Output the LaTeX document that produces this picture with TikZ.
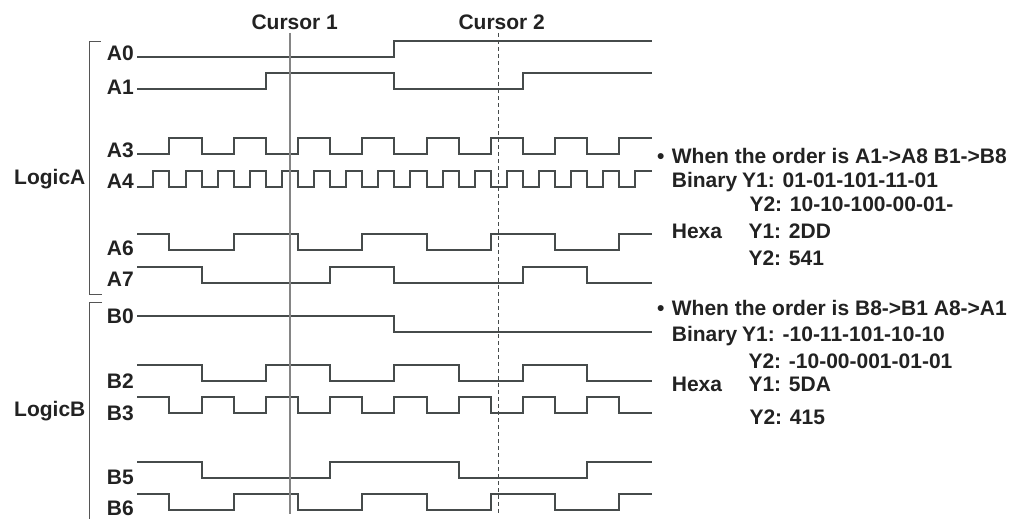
\documentclass[tikz,border=0pt]{standalone}
\usepackage{fontspec}
\setmainfont{Liberation Sans}
\definecolor{txtcol}{HTML}{222222}
\definecolor{wavecol}{HTML}{464B4B}
\definecolor{curcol}{HTML}{858585}
\definecolor{brkcol}{HTML}{555555}
\newcommand\fsz{\fontsize{21}{24}\selectfont}
\newcommand\sigwave[4]{\draw[wave] (0,{#1-16*#2}) \foreach \t [count=\i] in {#3} { -- (\t,{#1-16*mod(\i+#2+1,2)}) -- (\t,{#1-16*mod(\i+#2,2)}) } -- (32,{#1-16*#4});}
\begin{document}
\begin{tikzpicture}[x=1pt,y=-1pt,
  wave/.style={draw=wavecol,line width=2pt,line join=miter},
  lbl/.style={anchor=base east,inner sep=0pt,text=txtcol,font=\fsz\bfseries},
  txt/.style={anchor=base west,inner sep=0pt,text=txtcol,font=\fsz\bfseries},
  ctxt/.style={anchor=base,inner sep=0pt,text=txtcol,font=\fsz\bfseries},
  brk/.style={draw=brkcol,line width=1.3pt},
  cur/.style={draw=curcol,line width=1.5pt},
  curd/.style={draw=wavecol,line width=1.3pt,dash pattern=on 4pt off 3pt}]
\useasboundingbox (0,0) rectangle (1025,519);
% brackets
\draw[brk] (100.7,41.7) -- (89.3,41.7) -- (89.3,294.3) -- (102.3,294.3);
\draw[brk] (102,302.7) -- (89.3,302.7) -- (89.3,522);
\node[txt] (logA) at (14,184.3) {LogicA};
\node[txt] (logB) at (14,416.7) {LogicB};
% channel labels
\node[lbl] (A0) at (134,60) {A0};
\node[lbl] (A1) at (134,94) {A1};
\node[lbl] (A3) at (134,157.3) {A3};
\node[lbl] (A4) at (134,188.3) {A4};
\node[lbl] (A6) at (134,255) {A6};
\node[lbl] (A7) at (134,286.7) {A7};
\node[lbl] (B0) at (134,323.3) {B0};
\node[lbl] (B2) at (134,388.3) {B2};
\node[lbl] (B3) at (134,420) {B3};
\node[lbl] (B5) at (134,484.3) {B5};
\node[lbl] (B6) at (134,515.3) {B6};
% waveforms
\begin{scope}[xshift=137.3pt,x=16.07pt]
\sigwave{56.7}{0}{16}{1}
\sigwave{89.3}{0}{8,16,24}{1}
\sigwave{154}{0}{2,4,...,30}{1}
\sigwave{186.7}{0}{1,2,...,31}{1}
\sigwave{250}{1}{2,6,...,30}{1}
\sigwave{282.7}{1}{4,12,16,24,28}{0}
\sigwave{331.7}{1}{16}{0}
\sigwave{380.7}{1}{4,8,...,28}{0}
\sigwave{413.3}{1}{2,4,...,30}{0}
\sigwave{478.3}{1}{4,12,20,28}{1}
\sigwave{510}{1}{2,6,...,30}{1}
\end{scope}
% cursors
\node[ctxt] (cur1) at (294.7,29.3) {Cursor 1};
\node[ctxt] (cur2) at (501.7,30) {Cursor 2};
\coordinate (c1t) at (290,33);
\coordinate (c1b) at (290,514);
\coordinate (c2t) at (498.3,33);
\coordinate (c2b) at (498.3,514);
\draw[cur] (c1t) -- (c1b);
\draw[curd] (c2t) -- (c2b);
% right text block 1
\node[txt] (b1) at (657,163.3) {•};
\node[txt] (h1) at (671.7,163.3) {When the order is A1->A8 B1->B8};
\node[txt] (bin1) at (671.7,187.3) {Binary};
\node[txt] (by11) at (742,187.3) {Y1: 01-01-101-11-01};
\node[txt] (by21) at (749.3,211) {Y2: 10-10-100-00-01-};
\node[txt] (hex1) at (671.7,238.3) {Hexa};
\node[txt] (hy11) at (748.3,238.3) {Y1: 2DD};
\node[txt] (hy21) at (748.3,265) {Y2: 541};
% right text block 2
\node[txt] (b2) at (657,315) {•};
\node[txt] (h2) at (671.7,315) {When the order is B8->B1 A8->A1};
\node[txt] (bin2) at (671.7,341.7) {Binary};
\node[txt] (by12) at (742,341.7) {Y1: -10-11-101-10-10};
\node[txt] (by22) at (748.3,368.3) {Y2: -10-00-001-01-01};
\node[txt] (hex2) at (671.7,391.7) {Hexa};
\node[txt] (hy12) at (748.3,391.7) {Y1: 5DA};
\node[txt] (hy22) at (749.3,424.3) {Y2: 415};
\end{tikzpicture}
\end{document}
